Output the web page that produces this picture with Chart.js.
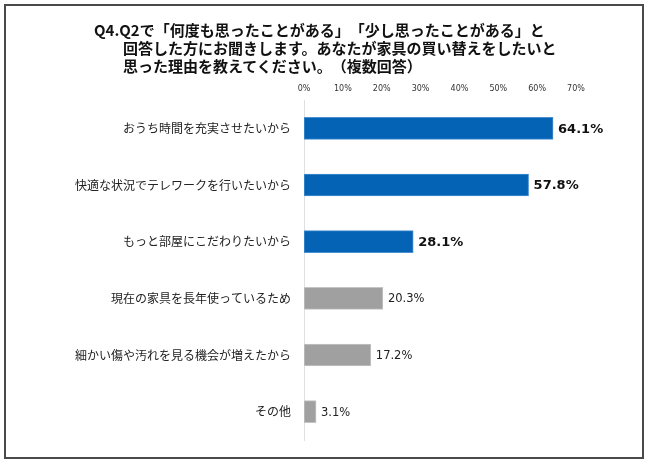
<!DOCTYPE html>
<html lang="ja">
<head>
<meta charset="UTF-8">
<title>Q4 家具の買い替え理由</title>
<script src="https://cdn.jsdelivr.net/npm/chart.js@4.4.0/dist/chart.umd.min.js"></script>
<style>
  html, body { margin: 0; padding: 0; background: #fff; }
  #wrap { position: relative; width: 650px; height: 464px; }
  #frame { position: absolute; left: 4px; top: 4px; width: 636px; height: 451px; border: 2px solid #4a4a4a; box-sizing: content-box; }
  #title { position: absolute; left: 94px; top: 21px; font: bold 15px "Noto Sans CJK JP", sans-serif; line-height: 18px; color: #111;
           text-spacing-trim: space-all; white-space: nowrap; }
  #title div.ind { padding-left: 29px; }
  canvas { position: absolute; left: 0; top: 0; }
</style>
</head>
<body>
<div id="wrap">
  <div id="frame"></div>
  <canvas id="chart" width="650" height="464"></canvas>
  <div id="title">
    <div>Q4.Q2で「何度も思ったことがある」「少し思ったことがある」と</div>
    <div class="ind">回答した方にお聞きします。あなたが家具の買い替えをしたいと</div>
    <div class="ind">思った理由を教えてください。（複数回答）</div>
  </div>
</div>

<script>
    const categories = [
        'おうち時間を充実させたいから',
        '快適な状況でテレワークを行いたいから',
        'もっと部屋にこだわりたいから',
        '現在の家具を長年使っているため',
        '細かい傷や汚れを見る機会が増えたから',
        'その他'
    ];
    const values = [64.1, 57.8, 28.1, 20.3, 17.2, 3.1];
    const highlighted = [true, true, true, false, false, false];
    const BLUE = '#0563B5';
    const GRAY = '#A0A0A0';

    // value labels to the right of each bar
    const valueLabels = {
        id: 'valueLabels',
        afterDatasetsDraw(chart) {
            const ctx = chart.ctx;
            const meta = chart.getDatasetMeta(0);
            ctx.save();
            ctx.textBaseline = 'middle';
            ctx.textAlign = 'left';
            meta.data.forEach((bar, i) => {
                if (highlighted[i]) {
                    ctx.font = 'bold 13px "DejaVu Sans", sans-serif';
                    ctx.fillStyle = '#111';
                } else {
                    ctx.font = '11.5px "DejaVu Sans", sans-serif';
                    ctx.fillStyle = '#222';
                }
                ctx.fillText(values[i].toFixed(1) + '%', bar.x + 5, bar.y + 1);
            });
            ctx.restore();
        }
    };

    new Chart(document.getElementById('chart'), {
        type: 'bar',
        data: {
            labels: categories,
            datasets: [{
                data: values,
                backgroundColor: highlighted.map(h => h ? BLUE : GRAY),
                borderColor: highlighted.map(h => h ? '#4a8fd0' : '#c4c4c4'),
                borderWidth: 1,
                borderSkipped: false,
                barThickness: 22
            }]
        },
        options: {
            indexAxis: 'y',
            responsive: false,
            animation: false,
            layout: { padding: { left: 0, right: 74, top: 0, bottom: 24 } },
            plugins: {
                legend: { display: false },
                tooltip: { enabled: false }
            },
            scales: {
                x: {
                    position: 'top',
                    min: 0,
                    max: 70,
                    grid: { display: false, drawTicks: false },
                    border: { display: false },
                    afterFit: s => { s.height = 100; },
                    ticks: {
                        stepSize: 10,
                        padding: 6,
                        color: '#333',
                        font: { size: 8, family: '"DejaVu Sans", sans-serif' },
                        callback: v => v + '%'
                    }
                },
                y: {
                    grid: { display: false, drawTicks: false },
                    border: { display: true, color: '#e0e0e0', width: 1 },
                    afterFit: s => { s.width = 304; },
                    ticks: {
                        padding: 13,
                        color: '#222',
                        font: { size: 12, family: '"Noto Sans CJK JP", sans-serif' }
                    }
                }
            }
        },
        plugins: [valueLabels]
    });
</script>
</body>
</html>
